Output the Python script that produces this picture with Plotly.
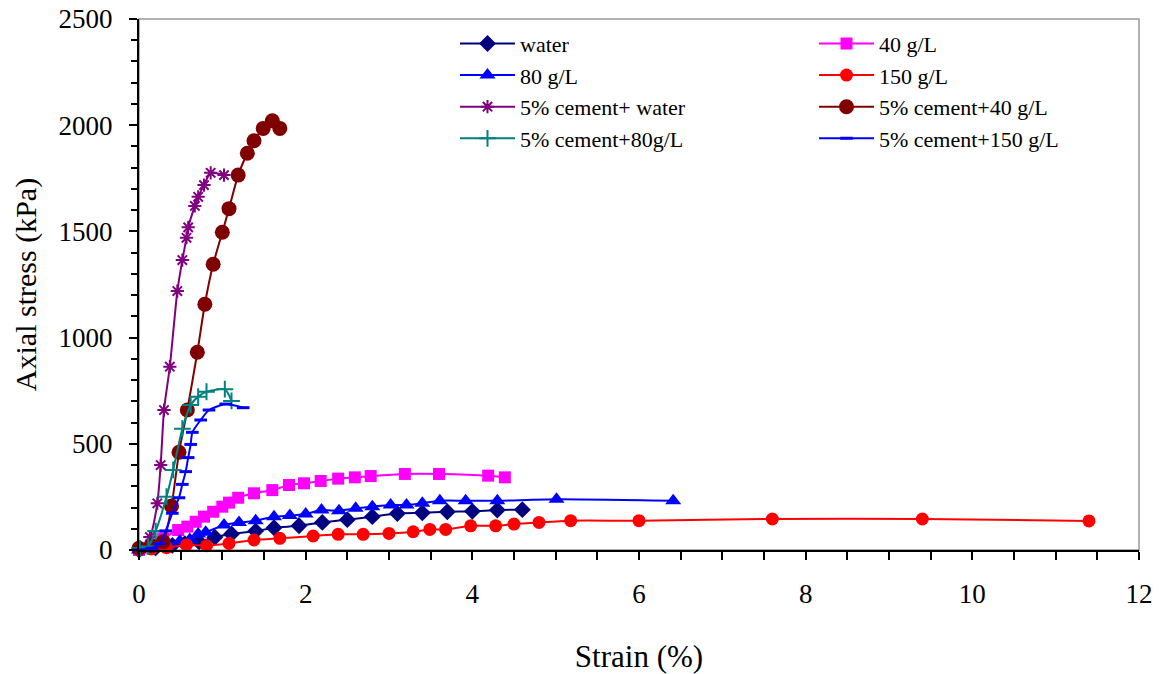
import plotly.graph_objects as go

# ---- data (strain %, axial stress kPa) ----
water_x = [0.0, 0.2, 0.4, 0.55, 0.72, 0.91, 1.11, 1.40, 1.62, 1.92, 2.20, 2.50, 2.80, 3.10, 3.40, 3.70, 4.00, 4.30, 4.60]
water_y = [0, 10, 22, 30, 39, 60, 75, 89, 105, 114, 130, 143, 157, 172, 175, 180, 182, 188, 190]

g40_x = [0.0, 0.15, 0.29, 0.47, 0.58, 0.68, 0.78, 0.89, 1.00, 1.08, 1.19, 1.38, 1.60, 1.80, 1.98, 2.18, 2.39, 2.59, 2.78, 3.19, 3.60, 4.19, 4.39]
g40_y = [0, 25, 55, 94, 110, 133, 157, 180, 204, 223, 246, 267, 282, 306, 314, 325, 336, 342, 348, 358, 358, 350, 342]

g80_x = [0.0, 0.2, 0.35, 0.49, 0.61, 0.71, 0.80, 1.02, 1.20, 1.40, 1.62, 1.81, 2.00, 2.19, 2.40, 2.60, 2.80, 3.02, 3.21, 3.40, 3.61, 3.92, 4.30, 5.01, 6.41]
g80_y = [0, 10, 25, 42, 50, 75, 83, 118, 129, 138, 157, 162, 169, 188, 185, 196, 204, 212, 212, 220, 232, 232, 232, 239, 232]

g150_x = [0.0, 0.15, 0.33, 0.57, 0.81, 1.08, 1.38, 1.69, 2.09, 2.39, 2.69, 3.00, 3.29, 3.49, 3.68, 3.98, 4.28, 4.50, 4.80, 5.18, 6.00, 7.60, 9.40, 11.40]
g150_y = [0, 5, 11, 24, 20, 31, 47, 55, 66, 74, 74, 78, 86, 97, 97, 114, 114, 122, 130, 138, 138, 146, 146, 137]

cw_x = [0.01, 0.13, 0.22, 0.26, 0.30, 0.37, 0.46, 0.52, 0.57, 0.59, 0.67, 0.71, 0.78, 0.86, 1.02]
cw_y = [10, 61, 220, 400, 659, 863, 1219, 1365, 1470, 1519, 1620, 1663, 1718, 1776, 1765]

c40_x = [0.0, 0.15, 0.29, 0.39, 0.48, 0.58, 0.70, 0.79, 0.89, 1.00, 1.08, 1.19, 1.30, 1.38, 1.49, 1.60, 1.69]
c40_y = [8, 20, 39, 207, 460, 659, 931, 1157, 1345, 1496, 1607, 1765, 1868, 1927, 1985, 2021, 1985]

c80_x = [0.01, 0.11, 0.20, 0.33, 0.41, 0.52, 0.62, 0.71, 0.81, 1.03, 1.11]
c80_y = [8, 16, 89, 251, 377, 571, 683, 722, 745, 757, 702]

c150_x = [0.0, 0.15, 0.25, 0.32, 0.40, 0.48, 0.52, 0.56, 0.59, 0.62, 0.64, 0.74, 0.84, 1.04, 1.25]
c150_y = [0, 8, 30, 90, 173, 246, 309, 369, 435, 497, 554, 612, 659, 687, 670]

x_ticks = [0, 2, 4, 6, 8, 10, 12]
y_ticks = [0, 500, 1000, 1500, 2000, 2500]

FONT = "Liberation Serif, Times New Roman, serif"

series = [
    ("water", water_x, water_y, "#000080", dict(symbol="diamond", size=13), "legend"),
    ("40 g/L", g40_x, g40_y, "#FF00FF", dict(symbol="square", size=12), "legend2"),
    ("80 g/L", g80_x, g80_y, "#0000FF", dict(symbol="triangle-up", size=14), "legend"),
    ("150 g/L", g150_x, g150_y, "#FF0000", dict(symbol="circle", size=13), "legend2"),
    ("5% cement+ water", cw_x, cw_y, "#800080", dict(symbol="asterisk-open", size=11, line=dict(width=2, color="#800080")), "legend"),
    ("5% cement+40 g/L", c40_x, c40_y, "#800000", dict(symbol="circle", size=15), "legend2"),
    ("5% cement+80g/L", c80_x, c80_y, "#008080", dict(symbol="cross-thin-open", size=12, line=dict(width=2, color="#008080")), "legend"),
    ("5% cement+150 g/L", c150_x, c150_y, "#0000FF", dict(symbol="line-ew-open", size=9, line=dict(width=3, color="#0000FF")), "legend2"),
]

fig = go.Figure()
for name, xs, ys, col, mk, lg in series:
    m = dict(color=col)
    m.update(mk)
    fig.add_trace(go.Scatter(
        x=xs, y=ys, name=name, mode="lines+markers",
        line=dict(color=col, width=2, shape="spline", smoothing=0.6),
        marker=m, legend=lg, cliponaxis=False,
    ))

fig.add_shape(type="rect", xref="paper", yref="paper", x0=0, y0=0, x1=1, y1=1,
              line=dict(color="#999999", width=1.5), layer="below")

leg_common = dict(yanchor="top", xanchor="left", bgcolor="rgba(0,0,0,0)",
                  font=dict(size=22, family=FONT, color="black"),
                  tracegroupgap=0, itemwidth=55)
fig.update_layout(
    width=1161, height=674,
    margin=dict(l=139, r=22, t=19, b=124),
    paper_bgcolor="white", plot_bgcolor="white",
    font=dict(family=FONT, size=22, color="black"),
    legend=dict(x=0.316, y=0.993, **leg_common),
    legend2=dict(x=0.675, y=0.993, **leg_common),
    showlegend=True,
)
fig.update_xaxes(
    range=[0, 12], tickvals=x_ticks, ticktext=[str(v) for v in x_ticks],
    showgrid=False, zeroline=False, showline=True, linecolor="black", linewidth=2,
    ticks="outside", ticklen=8, tickwidth=1.5, tickcolor="black",
    minor=dict(dtick=0.5, ticks="outside", ticklen=8, tickwidth=1.5, tickcolor="black"),
    ticklabelstandoff=11, automargin=False,
    tickfont=dict(size=27, family=FONT),
    title=dict(text="Strain (%)", font=dict(size=31, family=FONT), standoff=41),
)
fig.update_yaxes(
    range=[0, 2500], tickvals=y_ticks, ticktext=[str(v) for v in y_ticks],
    showgrid=False, zeroline=False, showline=True, linecolor="black", linewidth=2,
    ticks="outside", ticklen=8, tickwidth=1.5, tickcolor="black",
    minor=dict(dtick=100, ticks="outside", ticklen=6, tickwidth=1.5, tickcolor="black"),
    ticklabelstandoff=11, automargin=False,
    tickfont=dict(size=27, family=FONT),
    title=dict(text="Axial stress (kPa)", font=dict(size=30, family=FONT), standoff=13),
)

fig.write_html("out.html")
